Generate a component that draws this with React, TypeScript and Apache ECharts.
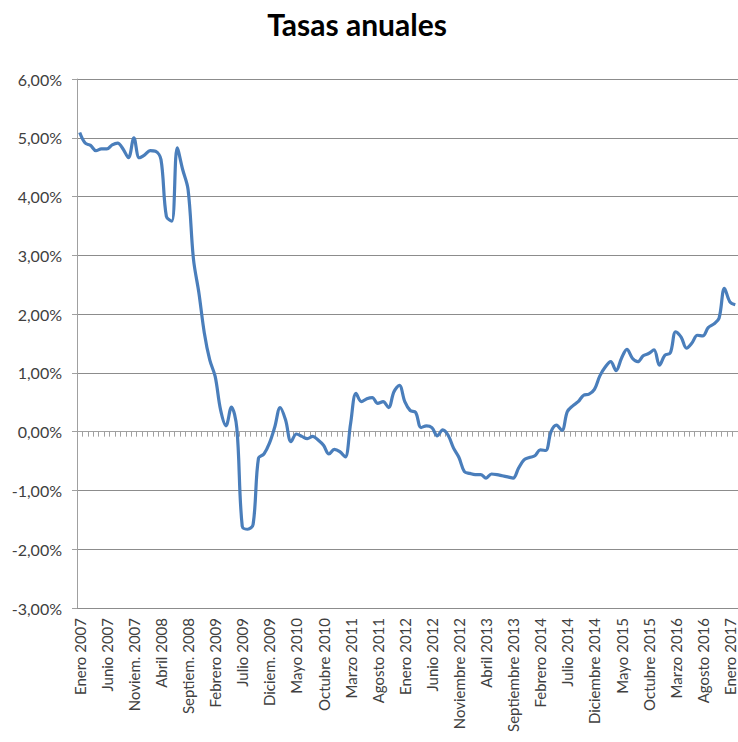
import React, { useEffect, useRef } from "react";
import * as echarts from "echarts";

const monthNames = ["Enero", "Febrero", "Marzo", "Abril", "Mayo", "Junio", "Julio", "Agosto", "Septiembre", "Octubre", "Noviembre", "Diciembre"];
const shortNamesBefore2010: Record<string, string> = { Septiembre: "Septiem.", Noviembre: "Noviem.", Diciembre: "Diciem." };
const startYear = 2007;

// Tasa anual (%) mensual, Enero 2007 - Febrero 2017
const values: number[] = [
  5.09, 4.91, 4.87, 4.78, 4.81, 4.81, 4.88, 4.91, 4.81, 4.66, 5.0, 4.66,
  4.71, 4.78, 4.77, 4.63, 3.66, 3.58, 4.83, 4.46, 4.12, 2.93, 2.36, 1.68,
  1.22, 0.94, 0.37, 0.1, 0.42, 0.06, -1.61, -1.66, -1.58, -0.45, -0.38, -0.2,
  0.08, 0.41, 0.2, -0.17, -0.04, -0.08, -0.12, -0.08, -0.14, -0.23, -0.38, -0.3,
  -0.34, -0.43, 0.14, 0.65, 0.51, 0.56, 0.58, 0.48, 0.51, 0.41, 0.68, 0.79,
  0.51, 0.36, 0.33, 0.07, 0.1, 0.07, -0.07, 0.03, -0.06, -0.28, -0.44, -0.68,
  -0.71, -0.73, -0.73, -0.79, -0.72, -0.73, -0.75, -0.77, -0.79, -0.62, -0.48, -0.44,
  -0.41, -0.31, -0.32, 0.0, 0.11, 0.02, 0.34, 0.44, 0.51, 0.62, 0.64, 0.72,
  0.95, 1.1, 1.19, 1.04, 1.25, 1.4, 1.25, 1.19, 1.29, 1.33, 1.39, 1.13,
  1.3, 1.34, 1.7, 1.61, 1.42, 1.51, 1.64, 1.63, 1.77, 1.83, 1.93, 2.44,
  2.21, 2.16,
];

const categories: string[] = values.map((_, i) => {
  const year = startYear + Math.floor(i / 12);
  let name = monthNames[i % 12];
  if (year < 2010 && shortNamesBefore2010[name]) name = shortNamesBefore2010[name];
  return `${name} ${year}`;
});

const yMin = -3;
const yMax = 6;
const yStep = 1;
const titleText = "Tasas anuales";

export default function App() {
  const ref = useRef<HTMLDivElement>(null);
  useEffect(() => {
    document.body.style.margin = "0";
    if (!ref.current) return;
    const chart = echarts.init(ref.current, undefined, { renderer: "svg" });
    const font = "Lato, 'Noto Sans', sans-serif";
    const textColor = "#404040";
    chart.setOption({
      animation: false,
      backgroundColor: "#ffffff",
      graphic: [
        {
          type: "text",
          x: 357,
          y: 9,
          style: {
            text: titleText,
            font: `bold 30px ${font}`,
            fill: "#000000",
            textAlign: "center",
            textVerticalAlign: "top",
          },
        },
      ],
      grid: { left: 77, right: 0, top: 79, bottom: 134, containLabel: false },
      xAxis: [
        {
          type: "category",
          data: categories,
          position: "bottom",
          boundaryGap: true,
          axisLine: { show: false, onZero: false },
          axisTick: { show: false },
          splitLine: { show: false },
          axisLabel: {
            interval: 4,
            rotate: 90,
            margin: 10,
            fontSize: 15,
            fontFamily: font,
            color: textColor,
          },
        },
        {
          type: "category",
          data: categories,
          position: "top",
          boundaryGap: true,
          axisLine: { show: true, onZero: true, lineStyle: { color: "#a0a0a0", width: 1 } },
          axisTick: { show: true, inside: true, length: 5, interval: 0, lineStyle: { color: "#a0a0a0" } },
          axisLabel: { show: false },
          splitLine: { show: false },
        },
      ],
      yAxis: {
        type: "value",
        min: yMin,
        max: yMax,
        interval: yStep,
        axisLine: { show: true, lineStyle: { color: "#a0a0a0", width: 1 } },
        axisTick: { show: true, length: 5, lineStyle: { color: "#a0a0a0" } },
        splitLine: { show: true, lineStyle: { color: "#8c8c8c", width: 1 } },
        axisLabel: {
          margin: 15,
          fontSize: 16,
          fontFamily: font,
          color: textColor,
          formatter: (v: number) => v.toFixed(2).replace(".", ",") + "%",
        },
      },
      series: [
        {
          type: "line",
          data: values,
          xAxisIndex: 0,
          smooth: 0.35,
          showSymbol: false,
          lineStyle: { color: "#4a7ebb", width: 3.2 },
          itemStyle: { color: "#4a7ebb" },
        },
      ],
    });
    return () => chart.dispose();
  }, []);
  return <div ref={ref} style={{ width: 738, height: 742 }} />;
}
